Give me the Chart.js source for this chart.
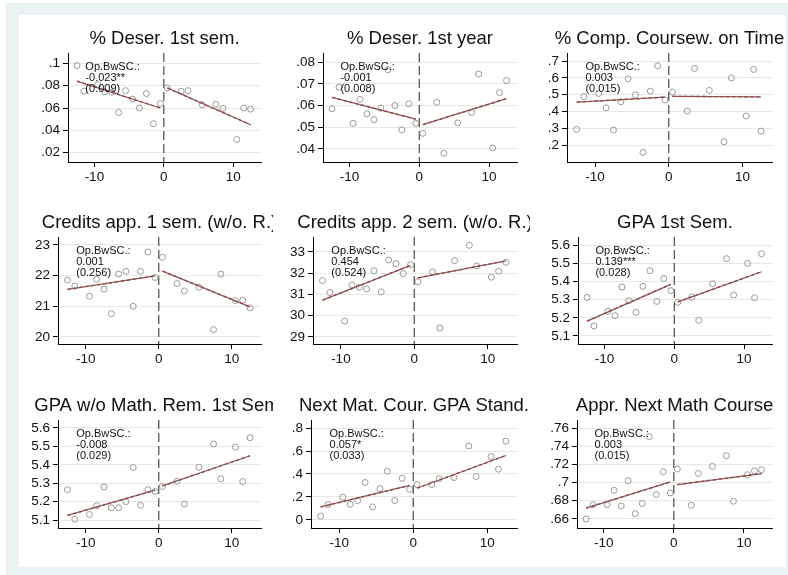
<!DOCTYPE html>
<html>
<head>
<meta charset="utf-8">
<script src="https://cdn.jsdelivr.net/npm/chart.js@4.4.1/dist/chart.umd.min.js"></script>
<style>
  html, body { margin:0; padding:0; background:#fff; width:788px; height:575px; overflow:hidden; }
  #frame { position:absolute; left:6px; top:3px; width:782px; height:572px; background:#eaf2f3; }
  #inner { position:absolute; left:19px; top:15px; width:767px; height:552px; background:#fff; }
  canvas { position:absolute; }
</style>
</head>
<body>
<div id="frame"></div>
<div id="inner"></div>

<script>
// ---------------------------------------------------------------
// Bin centres (running variable) and the two fitted segments
// ---------------------------------------------------------------
const binX = [-12.5,-11.5,-9.5,-8.5,-7.5,-6.5,-5.5,-4.5,-3.5,-2.5,-1.5,-0.5,
              0.5,2.5,3.5,5.5,7.5,8.5,10.5,11.5,12.5];
const fitX = [-12.5,-0.5,0.5,12.5];
const xTicks = [-10,0,10];

const titles = [
  '% Deser. 1st sem.', '% Deser. 1st year', '% Comp. Coursew. on Time',
  'Credits app. 1 sem. (w/o. R.)', 'Credits app. 2 sem. (w/o. R.)', 'GPA 1st Sem.',
  'GPA w/o Math. Rem. 1st Sem.', 'Next Mat. Cour. GPA Stand.', 'Appr. Next Math Course'
];

// bin means
const desSem1   = [.098,.075,.081,.0745,.074,.056,.0755,.068,.060,.073,.046,.064,
                   .078,.075,.0755,.063,.0633,.0597,.0318,.060,.059];
const desYear1  = [.0585,.0685,.0518,.0628,.0562,.0535,.0588,.0765,.060,.0488,.0608,.0518,
                   .0472,.0615,.038,.052,.0568,.0745,.0405,.066,.0715];
const compTime  = [.293,.488,.507,.422,.289,.458,.595,.498,.156,.521,.672,.468,
                   .515,.402,.656,.525,.22,.60,.373,.65,.283];
const cred1     = [21.855,21.66,21.33,21.88,21.56,20.76,22.05,22.14,21.0,22.14,22.77,21.94,
                   22.6,21.74,21.5,21.62,20.24,22.05,21.19,21.2,20.95];
const cred2     = [31.65,31.09,29.75,31.45,31.34,31.26,32.11,31.12,32.62,32.45,31.98,32.4,
                   31.6,32.06,29.42,32.59,33.31,32.34,31.81,32.09,32.51];
const gpa1      = [5.312,5.155,5.236,5.212,5.369,5.294,5.23,5.373,5.459,5.29,5.416,5.349,
                   5.285,5.314,5.186,5.387,5.525,5.325,5.499,5.31,5.552];
const gpaNoRem  = [5.265,5.105,5.13,5.178,5.28,5.167,5.167,5.2,5.385,5.18,5.265,5.255,
                   5.282,5.311,5.187,5.387,5.513,5.324,5.496,5.309,5.547];
const nextGpa   = [.032,.134,.198,.137,.169,.326,.113,.273,.424,.169,.363,.267,
                   .308,.308,.36,.369,.643,.378,.552,.442,.686];
const apprNext  = [.66,.6757,.6757,.6915,.6743,.7021,.6659,.6769,.7508,.6868,.712,.6886,
                   .715,.675,.7101,.7179,.7296,.6795,.7087,.713,.7142];

// fitted values at fitX
const fitDesSem1  = [.084,.060,.078,.045];
const fitDesYear1 = [.0638,.0537,.0512,.0632];
const fitCompTime = [.455,.485,.49,.487];
const fitCred1    = [21.55,21.99,22.15,20.98];
const fitCred2    = [30.73,32.37,31.78,32.58];
const fitGpa1     = [5.182,5.384,5.287,5.453];
const fitGpaNoRem = [5.125,5.262,5.285,5.449];
const fitNextGpa  = [.113,.30,.276,.561];
const fitApprNext = [.672,.7007,.6978,.7098];

// y ticks, labels and axis ranges
const yTicks = [
  [.02,.04,.06,.08,.1], [.04,.05,.06,.07,.08], [.2,.3,.4,.5,.6,.7],
  [20,21,22,23], [29,30,31,32,33], [5.1,5.2,5.3,5.4,5.5,5.6],
  [5.1,5.2,5.3,5.4,5.5,5.6], [0,.2,.4,.6,.8], [.66,.68,.7,.72,.74,.76]
];
const yLabels = [
  ['.02','.04','.06','.08','.1'], ['.04','.05','.06','.07','.08'], ['.2','.3','.4','.5','.6','.7'],
  ['20','21','22','23'], ['29','30','31','32','33'], ['5.1','5.2','5.3','5.4','5.5','5.6'],
  ['5.1','5.2','5.3','5.4','5.5','5.6'], ['0','.2','.4','.6','.8'], ['.66','.68','.7','.72','.74','.76']
];
const yMin = [.0117,.034,.099,19.77,28.67,5.056,5.057,-.07,.650];
const yMax = [.1092,.0842,.748,23.26,33.7,5.644,5.643,.87,.769];

// estimates shown in each panel
const estimates = ['-0.023**','-0.001','0.003','0.001','0.454','0.139***','-0.008','0.057*','0.003'];
const stdErrs   = ['(0.009)','(0.008)','(0.015)','(0.256)','(0.524)','(0.028)','(0.029)','(0.033)','(0.015)'];

const series = [desSem1,desYear1,compTime,cred1,cred2,gpa1,gpaNoRem,nextGpa,apprNext];
const fits   = [fitDesSem1,fitDesYear1,fitCompTime,fitCred1,fitCred2,fitGpa1,fitGpaNoRem,fitNextGpa,fitApprNext];

// ---------------------------------------------------------------
// panel geometry
// ---------------------------------------------------------------
const colLeft = [19,275,531], colW = [254,255,255];
const rowTop = [15,199,383], rowH = 184;
const axisW = [49,48,36,39,38,47,39,36,46];
const padTop = [38,38,37];
const padRight = [12,13,14];
const xAxisH = [37,39,39];
const FONT = "'Liberation Sans', Arial, Helvetica, sans-serif";

const rdPlugin = {
  id: 'rd',
  beforeDatasetsDraw(chart, args, opts){
    const {ctx, chartArea:a, scales:{x}} = chart;
    const px = x.getPixelForValue(0);
    ctx.save();
    ctx.strokeStyle = '#4a4a4a';
    ctx.lineWidth = 1.2;
    ctx.setLineDash([9,4]);
    ctx.beginPath();
    ctx.moveTo(px, a.top);
    ctx.lineTo(px, a.bottom);
    ctx.stroke();
    ctx.restore();
  },
  afterDraw(chart, args, opts){
    const {ctx, chartArea:a, scales:{x}} = chart;
    const i = opts.idx;
    ctx.save();
    ctx.fillStyle = '#111';
    ctx.textAlign = 'center';
    ctx.textBaseline = 'middle';
    ctx.font = '18.5px ' + FONT;
    ctx.fillText(titles[i], (a.left + a.right)/2, a.top - 14);
    ctx.textAlign = 'left';
    ctx.font = '11px ' + FONT;
    const tx = x.getPixelForValue(-11.3);
    ['Op.BwSC.:', estimates[i], stdErrs[i]].forEach((s,k) => {
      ctx.fillText(s, tx, a.top + 14 + k*11);
    });
    ctx.restore();
  }
};

function seg(fit, from){
  return [{x:fitX[from], y:fit[from]}, {x:fitX[from+1], y:fit[from+1]}];
}

function lineSets(fit){
  const out = [];
  [0,2].forEach(k => {
    out.push({ data: seg(fit,k), showLine:true, pointRadius:0, borderColor:'#6a6a6a', borderWidth:1.3, order:1 });
    out.push({ data: seg(fit,k), showLine:true, pointRadius:0, borderColor:'#b83333', borderWidth:1.3, borderDash:[3,3], order:0 });
  });
  return out;
}

for (let i = 0; i < 9; i++){
  const r = Math.floor(i/3), c = i % 3;
  const cv = document.createElement('canvas');
  cv.width = colW[c]; cv.height = rowH;
  cv.style.left = colLeft[c] + 'px';
  cv.style.top = rowTop[r] + 'px';
  document.body.appendChild(cv);

  new Chart(cv, {
    type: 'scatter',
    data: {
      datasets: [
        {
          data: binX.map((x,k) => ({x, y: series[i][k]})),
          pointRadius: 3, pointHoverRadius: 3,
          borderColor: '#9a9a9a', backgroundColor: 'rgba(0,0,0,0)', borderWidth: 1,
          order: 2
        },
        ...lineSets(fits[i])
      ]
    },
    options: {
      responsive: false,
      animation: false,
      devicePixelRatio: 1,
      layout: { padding: { top: padTop[r], right: padRight[c], left: 0, bottom: 0 } },
      plugins: { legend:{display:false}, tooltip:{enabled:false}, rd:{ idx:i } },
      scales: {
        x: {
          type: 'linear', min: -13.8, max: 14,
          afterBuildTicks: s => { s.ticks = xTicks.map(v => ({value:v})); },
          afterFit: s => { s.height = xAxisH[r]; },
          ticks: { color:'#111', font:{ family:FONT, size:13.5 }, padding:2, maxRotation:0,
                   callback: v => String(v) },
          grid: { drawOnChartArea:false, drawTicks:true, tickLength:5, tickColor:'#000' },
          border: { display:true, color:'#000', width:1 }
        },
        y: {
          type: 'linear', min: yMin[i], max: yMax[i],
          afterBuildTicks: s => { s.ticks = yTicks[i].map(v => ({value:v})); },
          afterFit: s => { s.width = axisW[i]; },
          ticks: { color:'#111', font:{ family:FONT, size:13.5 }, padding:3,
                   callback: (v, k) => yLabels[i][k] },
          grid: { color:'#e8e8e8', lineWidth:1, drawTicks:true, tickLength:5, tickColor:'#000' },
          border: { display:true, color:'#000', width:1 }
        }
      }
    },
    plugins: [rdPlugin]
  });
}
</script>
</body>
</html>
